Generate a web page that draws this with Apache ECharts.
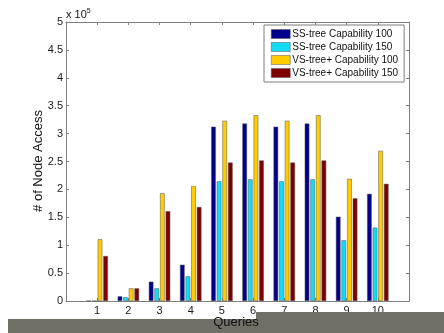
<!DOCTYPE html>
<html>
<head>
<meta charset="utf-8">
<script src="https://cdn.jsdelivr.net/npm/echarts@6/dist/echarts.min.js"></script>
<style>html,body{margin:0;padding:0;background:#fff;}#c{width:444px;height:333px;}</style>
</head>
<body>
<div id="c"></div>
<script>
var queries = [1, 2, 3, 4, 5, 6, 7, 8, 9, 10];
var ss100 = [300, 8400, 34600, 65000, 312400, 318000, 312400, 318000, 151000, 192000];
var ss150 = [300, 6600, 22700, 44200, 214500, 218000, 214500, 218000, 108800, 131400];
var vs100 = [110600, 22700, 193000, 206000, 323000, 333000, 323000, 333000, 219000, 269000];
var vs150 = [80600, 22700, 161000, 168500, 248000, 252000, 248000, 252000, 184000, 210000];
var seriesNames = ['SS-tree Capability 100', 'SS-tree Capability 150', 'VS-tree+ Capability 100', 'VS-tree+ Capability 150'];
var colors = ['#00008c', '#10dcf6', '#ffcc00', '#7e0000'];

function pairs(arr) { return queries.map(function (q, i) { return [q, arr[i]]; }); }

var chart = echarts.init(document.getElementById('c'), null, {renderer: 'canvas'});
var font = 'Liberation Sans, Arial, sans-serif';
var axisGray = '#7f7f7f';
function xAx(pos, showLabel) {
  return {
    type: 'value', position: pos, min: 0, max: 11, interval: 1,
    axisLine: {show: true, onZero: false, lineStyle: {color: axisGray, width: 1}},
    axisTick: {show: true, inside: true, length: 3, lineStyle: {color: axisGray}},
    splitLine: {show: false},
    axisLabel: {show: showLabel, color: '#1a1a1a', fontFamily: font, fontSize: 11, margin: 4,
      formatter: function (v) { return (v >= 1 && v <= 10) ? String(v) : ''; }}
  };
}
function yAx(pos, showLabel) {
  return {
    type: 'value', position: pos, min: 0, max: 500000, interval: 50000,
    axisLine: {show: true, onZero: false, lineStyle: {color: axisGray, width: 1}},
    axisTick: {show: true, inside: true, length: 3, lineStyle: {color: axisGray}},
    splitLine: {show: false},
    axisLabel: {show: showLabel, color: '#1a1a1a', fontFamily: font, fontSize: 11, margin: 3,
      formatter: function (v) { return String(Math.round(v / 50000) * 0.5).replace(/\.0$/, ''); }}
  };
}
var series = [ss100, ss150, vs100, vs150].map(function (arr, i) {
  return {
    name: seriesNames[i], type: 'bar', xAxisIndex: 0, yAxisIndex: 0,
    data: pairs(arr), barWidth: 4.6, barGap: '22%',
    itemStyle: {color: colors[i], borderColor: '#555', borderWidth: 0.5},
    emphasis: {disabled: true}
  };
});
chart.setOption({
  animation: false,
  backgroundColor: '#ffffff',
  grid: {left: 66, top: 22, right: 35, bottom: 32, containLabel: false},
  xAxis: [xAx('bottom', true), xAx('top', false)],
  yAxis: [yAx('left', true), yAx('right', false)],
  legend: {
    show: true, orient: 'vertical', left: 264, top: 25,
    itemWidth: 19, itemHeight: 9, itemGap: 3, icon: 'rect',
    padding: [4, 6, 4, 7],
    borderColor: '#7f7f7f', borderWidth: 1, backgroundColor: '#ffffff',
    textStyle: {fontFamily: font, fontSize: 10, color: '#111', padding: [0, 0, 0, -3], lineHeight: 10},
    itemStyle: {borderColor: '#555', borderWidth: 0.5},
    data: seriesNames
  },
  series: series,
  graphic: [
    {type: 'rect', shape: {x: 8, y: 319, width: 436, height: 14}, style: {fill: '#6f6f66'}, z: 1},
    {type: 'rect', shape: {x: 256, y: 312, width: 188, height: 8}, style: {fill: '#6f6f66'}, z: 1},
    {type: 'text', x: 236, y: 322, z: 10, style: {text: 'Queries', fontFamily: font, fontSize: 13, fill: '#111', align: 'center', verticalAlign: 'middle'}},
    {type: 'text', x: 38, y: 161, rotation: Math.PI / 2, z: 10, style: {text: '# of Node Access', fontFamily: font, fontSize: 13, fill: '#111', align: 'center', verticalAlign: 'middle'}},
    {type: 'text', x: 66, y: 15, z: 10, style: {text: 'x 10{s|5}', fontFamily: font, fontSize: 11, fill: '#111', verticalAlign: 'middle',
      rich: {s: {fontSize: 7, fontFamily: font, fill: '#111', verticalAlign: 'top', padding: [0, 0, 7, 0]}}}}
  ]
});
</script>
</body>
</html>
